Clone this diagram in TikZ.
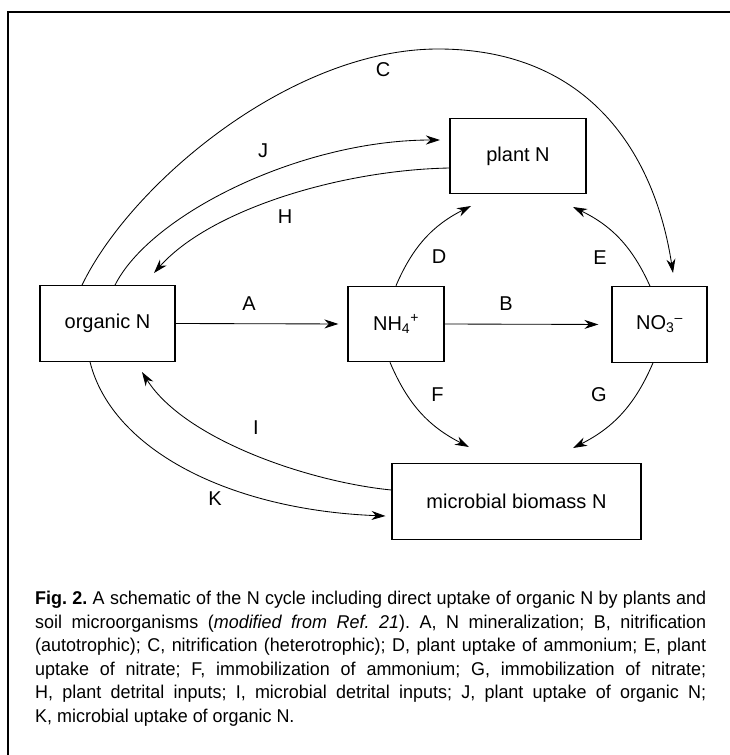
\documentclass[tikz,border=0pt]{standalone}
\usepackage{fontspec}
\setmainfont{Liberation Sans}
\newfontfamily\capfont{Liberation Sans}[FakeStretch=0.97]
\usetikzlibrary{arrows.meta,calc}
\begin{document}
\begin{tikzpicture}[x=1pt,y=-1pt,
  box/.style={draw, line width=1.2pt, minimum width=#1, minimum height=75.5pt, inner sep=0pt, font=\fontsize{20}{24}\selectfont},
  lbl/.style={inner sep=0pt, font=\fontsize{20}{24}\selectfont},
  arr/.style={line width=0.85pt, -{Stealth[length=14pt,width=9pt,inset=4.5pt]}}]
\useasboundingbox (0,0) rectangle (730,755);
% frame
\coordinate (frTR) at (730,12);
\coordinate (frTL) at (8,12);
\coordinate (frBL) at (8,755);
\draw[line width=1.3pt] (frTR) -- (frTL) -- (frBL);
% boxes
\node[box=135pt] (orgN) at (107.5,323.5) {organic N};
\node[box=96pt] (nh4) at (396,324) {NH\textsubscript{4}\textsuperscript{+}};
\node[box=95pt] (no3) at (659.5,324.5) {NO\textsubscript{3}\textsuperscript{--}};
\node[box=136pt] (plant) at (518,156) {plant N};
\node[box=249pt] (micro) at (516.5,501.5) {microbial biomass N};
% free ends
\coordinate (dT) at (471,206);
\coordinate (eT) at (573,207);
\coordinate (fT) at (469,447);
\coordinate (gT) at (573,448);
\coordinate (cT) at (673,273);
\coordinate (jT) at (440,140);
\coordinate (hT) at (154,273);
\coordinate (iT) at (142,372);
\coordinate (kT) at (385.5,516);
% straight arrows
\draw[arr, shorten >=9pt] (orgN.east) -- (nh4.west);
\draw[arr, shorten >=13pt] (nh4.east) -- (no3.west);
% short curved arrows
\draw[arr] (nh4.north) to[bend left=20] (dT);
\draw[arr] ([xshift=-9.5pt]no3.north) to[bend right=20] (eT);
\draw[arr] ([xshift=-6pt]nh4.south) to[bend right=20] (fT);
\draw[arr] ([xshift=-6.5pt]no3.south) to[bend left=20] (gT);
% long curves
\draw[arr] ([xshift=-25.5pt]orgN.north) .. controls (130,185) and (290,49) .. (438,49)
   .. controls (590,49) and (655,155) .. (cT);
\draw[arr] ([xshift=7.5pt]orgN.north) .. controls (150,215) and (300,140) .. (jT);
\draw[arr] ($(plant.west)+(0,12)$) .. controls (340,170) and (210,210) .. (hT);
\draw[arr] ($(micro.west)+(0,-11.5)$) .. controls (310,482) and (185,440) .. (iT);
\draw[arr] ([xshift=-17.5pt]orgN.south) .. controls (112,450) and (230,510) .. (kT);
% labels
\node[lbl] (lA) at (249,304) {A};
\node[lbl] (lB) at (506,304) {B};
\node[lbl] (lC) at (383,70) {C};
\node[lbl] (lD) at (439,257) {D};
\node[lbl] (lE) at (600,258) {E};
\node[lbl] (lF) at (437.6,395) {F};
\node[lbl] (lG) at (599,395) {G};
\node[lbl] (lH) at (285,217) {H};
\node[lbl] (lI) at (256,428) {I};
\node[lbl] (lJ) at (263,151) {J};
\node[lbl] (lK) at (215,499) {K};
% caption
\node[anchor=north west, text width=671pt, inner sep=0pt, align=justify,
  font=\capfont\fontsize{18.5}{23.5}\selectfont] (cap) at (35,591)
{\parindent=0pt\frenchspacing\hyphenpenalty=10000\exhyphenpenalty=10000\tolerance=9999\textbf{Fig. 2.} A schematic of the N cycle including direct uptake of organic N by plants and\linebreak
soil microorganisms (\textit{modified from Ref. 21}). A, N mineralization; B, nitrification\linebreak
(autotrophic); C, nitrification (heterotrophic); D, plant uptake of ammonium; E, plant\linebreak
uptake of nitrate; F, immobilization of ammonium; G, immobilization of nitrate;\linebreak
H, plant detrital inputs; I, microbial detrital inputs; J, plant uptake of organic N;\linebreak
K, microbial uptake of organic N.\par};
\end{tikzpicture}
\end{document}
